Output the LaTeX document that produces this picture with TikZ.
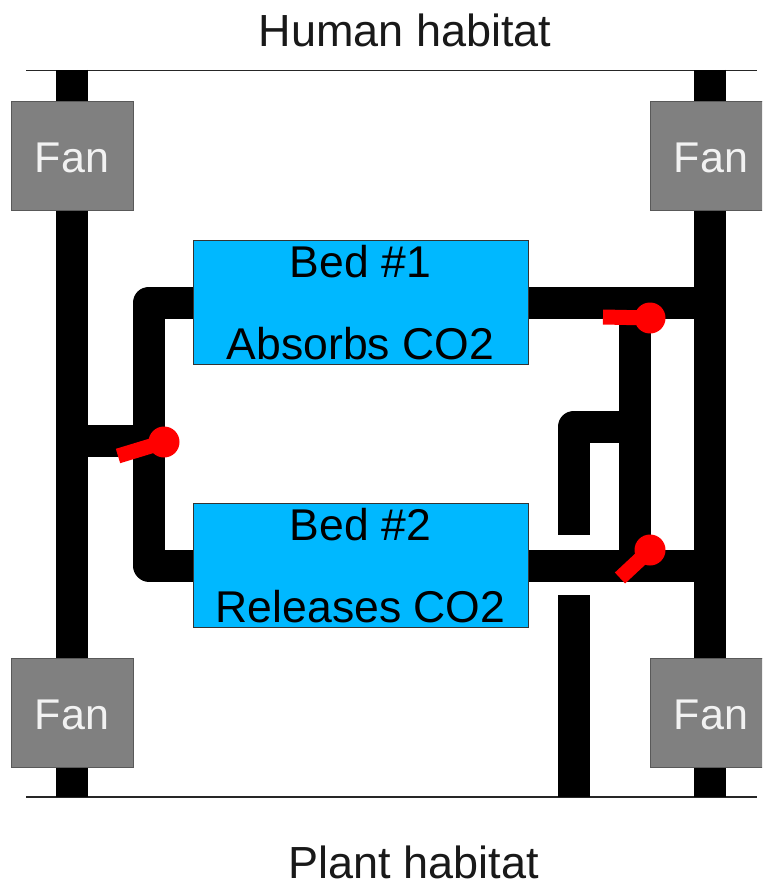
\documentclass[tikz,border=0pt]{standalone}
\usepackage{fontspec}
\setmainfont{Liberation Sans}
\usepackage{tikz}
\definecolor{bedblue}{RGB}{0,184,255}
\definecolor{fangray}{RGB}{128,128,128}
\definecolor{valvered}{RGB}{255,0,0}
\tikzset{
  duct/.style={line width=32pt,line join=round,black},
  wall/.style={line width=1.5pt,black!85},
  fan/.style={draw=black!65,line width=1pt,fill=fangray,text=white!95!black,minimum width=122pt,minimum height=109pt,inner sep=0pt,text height=34pt,font=\fontsize{43}{50}\selectfont},
  bed/.style={draw=black!80,line width=1pt,fill=bedblue,text=black,minimum width=335pt,minimum height=124pt,inner sep=0pt,align=center,font=\fontsize{44.5}{81.5}\selectfont},
  valve/.style={circle,fill=valvered,minimum size=31pt,inner sep=0pt},
  valvearm/.style={line width=15pt,valvered},
  caption/.style={inner sep=0pt,font=\fontsize{45}{50}\selectfont,text=black!90}
}
\begin{document}
\begin{tikzpicture}[x=1pt,y=-1pt]
\clip (0,0) rectangle (762,882);
% habitat lines
\coordinate (wallTL) at (26,70.5);
\coordinate (wallTR) at (757,70.5);
\coordinate (wallBL) at (26,797);
\coordinate (wallBR) at (757,797);
\draw[wall] (wallTL)--(wallTR);
\draw[wall] (wallBL)--(wallBR);
% main ducts
\coordinate (leftT) at (72,70);
\coordinate (leftB) at (72,797);
\coordinate (rightT) at (710,70);
\coordinate (rightB) at (710,797);
\draw[duct] (leftT)--(leftB);
\draw[duct] (rightT)--(rightB);
% beds
\node[bed] (bedA) at (360.5,302.5) {Bed \#1\\Absorbs CO2};
\node[bed] (bedB) at (360.5,565.5) {Bed \#2\\Releases CO2};
% branch pipes
\coordinate (leftJoin) at (72,441);
\coordinate (midJoin) at (149,441);
\coordinate (cornerA) at (149,302.5);
\coordinate (cornerB) at (149,565.5);
\coordinate (rightA) at (710,302.5);
\coordinate (rightC) at (710,565.5);
\coordinate (riserA) at (635,302.5);
\coordinate (riserB) at (635,565.5);
\coordinate (riserC) at (635,426.5);
\coordinate (bendC) at (574,426.5);
\coordinate (stubC) at (574,535);
\coordinate (stubD) at (574,595);
\coordinate (stubE) at (574,797);
\draw[duct] (bedA.west) -- (cornerA) -- (cornerB) -- (bedB.west);
\draw[duct] (leftJoin)--(midJoin);
\draw[duct] (bedA.east)--(rightA);
\draw[duct] (bedB.east)--(rightC);
\draw[duct] (riserA)--(riserB);
\draw[duct] (riserC)--(bendC)--(stubC);
\draw[duct] (stubD)--(stubE);
% redraw beds over pipe ends
\node[bed] at (bedA) {Bed \#1\\Absorbs CO2};
\node[bed] at (bedB) {Bed \#2\\Releases CO2};
% fans
\node[fan] (fanA) at (72,156) {Fan};
\node[fan] (fanB) at (711,156) {Fan};
\node[fan] (fanC) at (72,712.5) {Fan};
\node[fan] (fanD) at (711,712.5) {Fan};
% valves
\node[valve] (valveA) at (650,318) {};
\node[valve] (valveB) at (650,550) {};
\node[valve] (valveC) at (164,442) {};
\coordinate (armA) at (603,317);
\coordinate (armB) at (620,578);
\coordinate (armC) at (118,456);
\draw[valvearm] (valveA.center)--(armA);
\draw[valvearm] (valveB.center)--(armB);
\draw[valvearm] (valveC.center)--(armC);
% habitats
\node[caption] (human) at (405,30.5) {Human habitat};
\node[caption] (plant) at (414,862) {Plant habitat};
\end{tikzpicture}
\end{document}
